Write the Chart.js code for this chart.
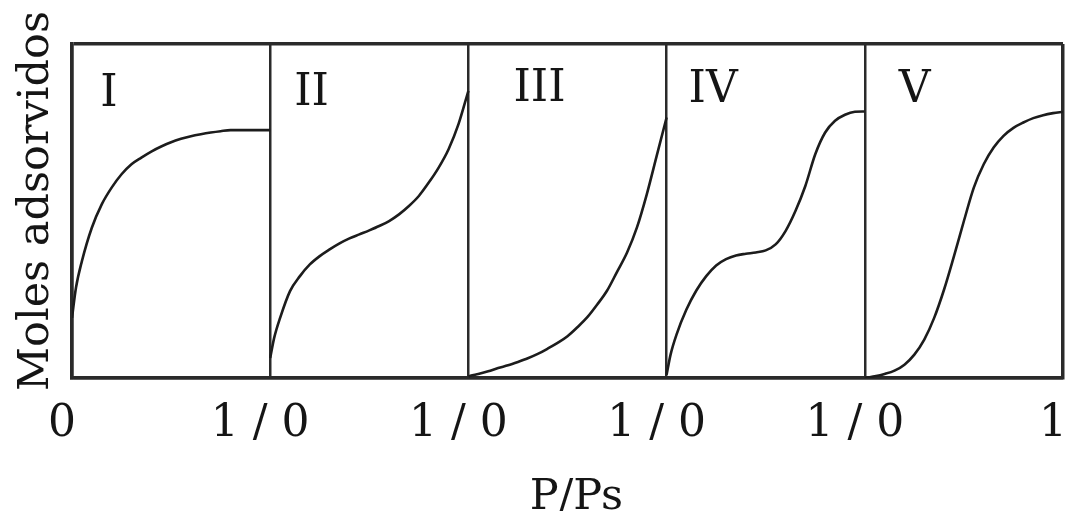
<!DOCTYPE html>
<html>
<head>
<meta charset="utf-8">
<script src="https://cdn.jsdelivr.net/npm/chart.js@4.4.1/dist/chart.umd.min.js"></script>
<style>
  html, body { margin: 0; padding: 0; background: #ffffff; }
  #wrap { width: 1070px; height: 511px; position: relative; }
</style>
</head>
<body>
<div id="wrap"><canvas id="c"></canvas></div>
<script>
// Relative pressure P/Ps sampled inside each panel (0..1)
const pressure = [0, 0.02, 0.05, 0.1, 0.15, 0.2, 0.25, 0.3, 0.35, 0.4, 0.45, 0.5, 0.55, 0.6, 0.65, 0.7, 0.75, 0.8, 0.85, 0.9, 0.95, 1.0];

// Moles adsorbed (fraction of panel height) for each isotherm type
const typeI   = [0.18, 0.27, 0.35, 0.45, 0.52, 0.57, 0.61, 0.64, 0.66, 0.678, 0.693, 0.706, 0.716, 0.724, 0.730, 0.735, 0.739, 0.742, 0.742, 0.742, 0.742, 0.742];
const typeII  = [0.06, 0.12, 0.18, 0.26, 0.305, 0.34, 0.365, 0.385, 0.403, 0.418, 0.43, 0.442, 0.455, 0.47, 0.49, 0.515, 0.545, 0.585, 0.63, 0.685, 0.76, 0.86];
const typeIII = [0.005, 0.008, 0.012, 0.02, 0.03, 0.038, 0.048, 0.059, 0.072, 0.088, 0.105, 0.125, 0.152, 0.182, 0.22, 0.262, 0.318, 0.375, 0.45, 0.55, 0.665, 0.78];
const typeIV  = [0.01, 0.07, 0.13, 0.205, 0.262, 0.305, 0.337, 0.356, 0.367, 0.372, 0.376, 0.382, 0.40, 0.44, 0.50, 0.575, 0.67, 0.735, 0.77, 0.788, 0.797, 0.798];
const typeV   = [0.0, 0.002, 0.005, 0.012, 0.022, 0.04, 0.07, 0.115, 0.18, 0.265, 0.365, 0.47, 0.57, 0.64, 0.69, 0.725, 0.749, 0.765, 0.778, 0.787, 0.793, 0.797];

const isothermTypes = ['I', 'II', 'III', 'IV', 'V'];
const tickLabels = ['0', '1 / 0', '1 / 0', '1 / 0', '1 / 0', '1'];
const xTitle = 'P/Ps';
const yTitle = 'Moles adsorvidos';

const series = [typeI, typeII, typeIII, typeIV, typeV];
const SERIF = '"DejaVu Serif", "Liberation Serif", serif';
const INK = '#151515';
const FRAME = '#2a2a2a';

const datasets = series.map((ys, i) => ({
  label: 'Tipo ' + isothermTypes[i],
  data: pressure.map((p, k) => ({ x: i + p, y: ys[k] })),
  borderColor: '#1c1c1c',
  borderWidth: 2.6,
  pointRadius: 0,
  fill: false,
  cubicInterpolationMode: 'monotone'
}));

// Placement of the roman numerals within each panel (fraction of panel width, height)
const numeralPlacement = [
  { dx: 0.143, y: 0.814 },
  { dx: 0.121, y: 0.817 },
  { dx: 0.227, y: 0.829 },
  { dx: 0.111, y: 0.826 },
  { dx: 0.171, y: 0.826 }
];

const textPlugin = {
  id: 'texts',
  afterDraw(chart) {
    const { ctx, scales: { x, y } } = chart;
    ctx.save();
    ctx.fillStyle = INK;
    ctx.textBaseline = 'alphabetic';
    ctx.textAlign = 'left';
    ctx.font = '44px ' + SERIF;
    isothermTypes.forEach((t, i) => {
      const p = numeralPlacement[i];
      ctx.fillText(t, x.getPixelForValue(i + p.dx), y.getPixelForValue(p.y));
    });
    // x title
    ctx.textAlign = 'center';
    ctx.font = '43px ' + SERIF;
    ctx.fillText(xTitle, (x.left + x.right) / 2 + 9, 509);
    // y title
    ctx.translate(48, (y.top + y.bottom) / 2 - 10);
    ctx.rotate(-Math.PI / 2);
    ctx.font = '43px ' + SERIF;
    ctx.fillText(yTitle, 0, 0);
    ctx.restore();
  }
};

new Chart(document.getElementById('c'), {
  type: 'line',
  data: { datasets },
  options: {
    responsive: true,
    maintainAspectRatio: false,
    animation: false,
    devicePixelRatio: 1,
    layout: { padding: { top: 44, right: 7, left: 0, bottom: 0 } },
    plugins: { legend: { display: false }, tooltip: { enabled: false } },
    scales: {
      x: {
        type: 'linear',
        min: 0,
        max: 5,
        position: 'bottom',
        border: { display: true, color: FRAME, width: 3.5 },
        grid: {
          display: true,
          drawTicks: false,
          color: FRAME,
          lineWidth: (c) => (c.tick && (c.tick.value === 0 || c.tick.value === 5)) ? 3.5 : 2.5
        },
        ticks: {
          stepSize: 1,
          autoSkip: false,
          maxRotation: 0,
          padding: 20,
          labelOffset: -10,
          color: INK,
          font: { family: SERIF, size: 44 },
          callback: (v, i) => tickLabels[i]
        },
        afterFit: (s) => { s.height = 133; s.paddingLeft = 0; s.paddingRight = 0; }
      },
      y: {
        type: 'linear',
        min: 0,
        max: 1,
        border: { display: true, color: FRAME, width: 3.5 },
        grid: { display: true, drawTicks: false, color: FRAME, lineWidth: 3.5 },
        ticks: { display: false, stepSize: 1 },
        afterFit: (s) => { s.width = 72; s.paddingTop = 0; s.paddingBottom = 0; }
      }
    }
  },
  plugins: [textPlugin]
});
</script>
</body>
</html>
